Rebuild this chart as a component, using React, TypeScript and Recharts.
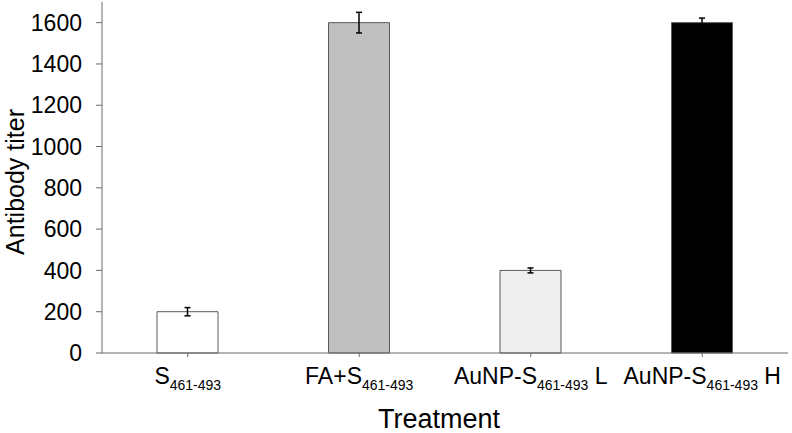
import React from "react";
import { BarChart, Bar, Cell, XAxis, YAxis, ErrorBar, Label } from "recharts";

const categories = ["S461-493", "FA+S461-493", "AuNP-S461-493 L", "AuNP-S461-493 H"];
const labelMain = ["S", "FA+S", "AuNP-S", "AuNP-S"];
const labelSub = ["461-493", "461-493", "461-493", "461-493"];
const labelTail = ["", "", " L", " H"];
const titers = [200, 1600, 400, 1600];
const errors = [20, 50, 12, 22];
const fills = ["#ffffff", "#c0c0c0", "#eeeeee", "#000000"];
const yTicks = [0, 200, 400, 600, 800, 1000, 1200, 1400, 1600];

const data = categories.map((name, i) => ({
  name,
  titer: titers[i],
  err: errors[i],
}));

const FONT = "'Liberation Sans', Arial, sans-serif";
const AXIS = "#6b6b6b";

const TreatmentTick = (props: any) => {
  const { x, y, payload } = props;
  const i = categories.indexOf(payload.value);
  return (
    <text
      x={x}
      y={y + 25}
      textAnchor="middle"
      fontFamily={FONT}
      fontSize={23}
      fill="#000"
    >
      <tspan>{labelMain[i]}</tspan>
      <tspan fontSize={14} dy={6}>
        {labelSub[i]}
      </tspan>
      <tspan dy={-6}>{labelTail[i]}</tspan>
    </text>
  );
};

const YTitle = () => (
  <text
    x={24}
    y={182}
    transform="rotate(-90, 24, 182)"
    textAnchor="middle"
    fontFamily={FONT}
    fontSize={25}
    fill="#000"
  >
    Antibody titer
  </text>
);

export default function App() {
  return (
    <div style={{ position: "absolute", left: 0, top: 0, background: "#fff" }}>
      <BarChart
        width={792}
        height={433}
        data={data}
        margin={{ top: 2, right: 4, left: 0, bottom: 0 }}
        barSize={61}
      >
        <XAxis
          dataKey="name"
          height={80}
          stroke={AXIS}
          tickSize={4}
          tickLine={{ stroke: AXIS }}
          tick={<TreatmentTick />}
          interval={0}
        >
          <Label
            value="Treatment"
            position="insideBottom"
            offset={5}
            dx={-6}
            fontFamily={FONT}
            fontSize={27}
            fill="#000"
          />
        </XAxis>
        <YAxis
          width={102}
          domain={[0, 1700]}
          ticks={yTicks}
          interval={0}
          stroke={AXIS}
          tickSize={6}
          tickMargin={14}
          tick={{ fontFamily: FONT, fontSize: 23, fill: "#000" }}
        >
          <Label content={<YTitle />} />
        </YAxis>
        <Bar dataKey="titer" stroke="#595959" strokeWidth={1} isAnimationActive={false}>
          {data.map((d, i) => (
            <Cell key={d.name} fill={fills[i]} />
          ))}
          <ErrorBar dataKey="err" width={3} stroke="#000" strokeWidth={1.5} isAnimationActive={false} />
        </Bar>
      </BarChart>
    </div>
  );
}
